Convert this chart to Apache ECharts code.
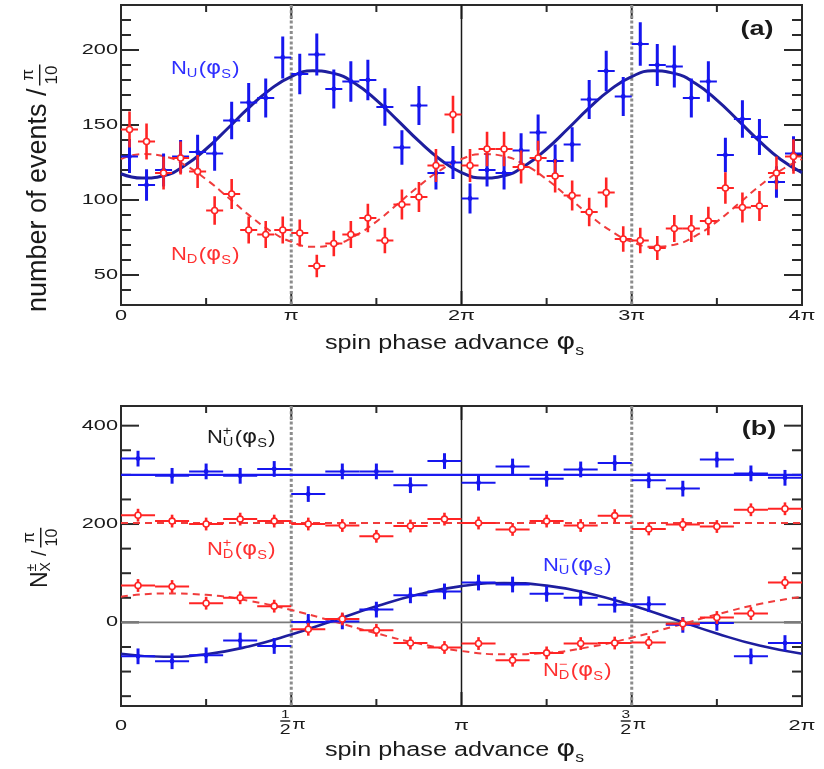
<!DOCTYPE html>
<html>
<head>
<meta charset="utf-8">
<script src="https://cdn.jsdelivr.net/npm/echarts@6/dist/echarts.min.js"></script>
<style>
html,body{margin:0;padding:0;background:#ffffff;}
#chart{width:824px;height:769px;}
</style>
</head>
<body>
<div id="chart"></div>
<script>
// ================= DATA (x in units of pi) =================
// Panel (a): 40 bins of pi/10 over 0..4pi
const binCentersA = [0.05,0.15,0.25,0.35,0.45,0.55,0.65,0.75,0.85,0.95,1.05,1.15,1.25,1.35,1.45,1.55,1.65,1.75,1.85,1.95,2.05,2.15,2.25,2.35,2.45,2.55,2.65,2.75,2.85,2.95,3.05,3.15,3.25,3.35,3.45,3.55,3.65,3.75,3.85,3.95];
const binHalfA = 0.05;
const nU_A = [129,110,120,129,132,131,153,165,168,195,184,197,174,179,180,162,135,163,118,125,101,120,118,133,145,126,137,167,186,169,204,190,189,168,179,130,154,142,112,131];
const nU_A_err = [11,10.5,11,11,11.5,11.5,12.5,13,13,14,13.5,14,13,13.5,13.5,12.5,11.5,13,11,11,10,11,11,11.5,12,11,11.5,13,13.5,13,14.5,14,14,13,13.5,11.5,12.5,12,10.5,11.5];
const nD_A = [147,139,118,128,119,93,104,80,77,80,78,56,71,77,88,73,97,102,123,157,123,134,134,122,128,116,103,92,105,74,73,68,81,81,86,108,95,96,118,129];
const nD_A_err = [12,12,11,11,11,9.5,10,9,9,9,9,7.5,8.5,9,9.5,8.5,10,10,11,12.5,11,11.5,11.5,11,11.5,11,10,9.5,10,8.5,8.5,8,9,9,9.5,10.5,10,10,11,11.5];
// fitted curves (a), sampled every pi/8
const fitX_A = [0,0.125,0.25,0.375,0.5,0.625,0.75,0.875,1,1.125,1.25,1.375,1.5,1.625,1.75,1.875,2,2.125,2.25,2.375,2.5,2.625,2.75,2.875,3,3.125,3.25,3.375,3.5,3.625,3.75,3.875,4];
const fitU_A = [117.5,114.6,116.2,123.0,134.0,147.5,161.4,173.6,182.3,186.1,184.4,177.6,166.6,153.1,139.2,127.0,118.3,114.6,116.2,123.0,134.0,147.5,161.4,173.6,182.3,186.1,184.4,177.6,166.6,153.1,139.2,127.0,118.3];
const fitD_A = [127.3,130.6,129.2,123.3,113.8,102.1,90.1,79.6,72.1,68.8,70.2,76.1,85.6,97.3,109.3,119.8,127.3,130.6,129.2,123.3,113.8,102.1,90.1,79.6,72.1,68.8,70.2,76.1,85.6,97.3,109.3,119.8,127.3];

// Panel (b): 20 bins of pi/10 over 0..2pi
const binCentersB = [0.05,0.15,0.25,0.35,0.45,0.55,0.65,0.75,0.85,0.95,1.05,1.15,1.25,1.35,1.45,1.55,1.65,1.75,1.85,1.95];
const binHalfB = 0.05;
const nUp_B = [333,298,307,298,312,261,307,307,279,328,284,317,292,311,324,289,272,331,303,294];
const nDp_B = [218,206,200,210,206,200,197,175,196,210,202,189,206,197,217,190,199,195,229,231];
const nUm_B = [-69,-79,-67,-37,-48,1,2,26,55,63,81,77,58,50,36,37,-5,-1,-69,-42];
const nDm_B = [75,73,39,50,33,-14,7,-16,-42,-51,-43,-77,-62,-43,-42,-41,-3,10,18,81];
const errU_B = 16;
const errD_B = 13;
const fitFlatX_B = [0,2];
const fitUp_B = [300,300];
const fitDp_B = [202,202];
const fitX_B = [0,0.125,0.25,0.375,0.5,0.625,0.75,0.875,1,1.125,1.25,1.375,1.5,1.625,1.75,1.875,2];
const fitUm_B = [-63.8,-70.0,-64.7,-48.9,-24.8,3.8,32.6,57.2,73.8,80.0,74.7,58.9,34.8,6.2,-22.6,-47.2,-63.8];
const fitDm_B = [52.2,58.8,56.0,44.1,25.1,1.9,-22.2,-43.2,-58.2,-64.8,-62.0,-50.1,-31.1,-7.9,16.2,37.2,52.2];

// Tick labels
const yTickValsA = [50,100,150,200];
const yTickLabelsA = ['50','100','150','200'];
const xTickValsA = [0,1,2,3,4];
const xTickLabelsA = ['0','π','2π','3π','4π'];
const yTickValsB = [0,200,400];
const yTickLabelsB = ['0','200','400'];
const xTickValsB = [0,0.5,1,1.5,2];
const xTickLabelsB = ['0','1/2π','π','3/2π','2π'];
// reference lines
const dottedA = [1,3], solidA = [2];
const dottedB = [0.5,1.5], solidB = [1], hlineB = [0];

// ================= STYLE =================
const FONT = '"Liberation Sans", Arial, sans-serif';
const C = {blue:'#1616ee', blueFit:'#1e1e9e', blueLine:'#1a1af0', red:'#ff2424', redFit:'#f03c3c',
  ink:'#1a1a1a', frame:'#2a2a2a', dots:'#8c8c8c', zero:'#7a7a7a', blueTxt:'#2f2fff', redTxt:'#ff3030'};

const chart = echarts.init(document.getElementById('chart'), null, {renderer:'canvas'});

function axis(gi, min, max) {
  return {type:'value', gridIndex:gi, min:min, max:max,
    axisLine:{show:false}, axisTick:{show:false}, axisLabel:{show:false}, splitLine:{show:false}};
}

function decoSeries(gi, items, xRef, yRef) {
  return {type:'custom', xAxisIndex:gi, yAxisIndex:gi, z:2, clip:false, silent:true,
    data: items,
    renderItem: function (params, api) {
      const cs = params.coordSys;
      const L = cs.x, R = cs.x + cs.width, T = cs.y, B = cs.y + cs.height;
      const v = api.value(0), k = api.value(1);
      const ln = (x1,y1,x2,y2,st) => ({type:'line', shape:{x1,y1,x2,y2}, style:st});
      const tk = {stroke:C.frame, lineWidth:2};
      if (k === 0 || k === 1) {
        const y = api.coord([xRef, v])[1]; const len = k === 0 ? 18 : 10;
        return {type:'group', children:[ln(L,y,L+len,y,tk), ln(R-len,y,R,y,tk)]};
      }
      if (k === 2 || k === 3) {
        const x = api.coord([v, yRef])[0]; const len = k === 2 ? 14 : 7;
        return {type:'group', children:[ln(x,B,x,B-len,tk), ln(x,T,x,T+len,tk)]};
      }
      if (k === 4) {
        const x = api.coord([v, yRef])[0];
        return ln(x,T,x,B,{stroke:C.dots, lineWidth:3, lineDash:[3,2.2]});
      }
      if (k === 5) {
        const x = api.coord([v, yRef])[0];
        return ln(x,T,x,B,{stroke:C.ink, lineWidth:1.5});
      }
      const y = api.coord([xRef, v])[1];
      return ln(L,y,R,y,{stroke:C.zero, lineWidth:1.6});
    }
  };
}

function errorBars(gi, xs, ys, errs, halfW, color, open, vw) {
  return {type:'custom', xAxisIndex:gi, yAxisIndex:gi, z:5, clip:false, silent:true,
    data: xs.map((x,i) => [x, ys[i], Array.isArray(errs) ? errs[i] : errs]),
    renderItem: function (params, api) {
      const x = api.value(0), y = api.value(1), e = api.value(2);
      const c = api.coord([x,y]), t = api.coord([x,y+e]), b = api.coord([x,y-e]);
      const l = api.coord([x-halfW,y]), r = api.coord([x+halfW,y]);
      const ch = [
        {type:'line', shape:{x1:c[0],y1:t[1],x2:c[0],y2:b[1]}, style:{stroke:color, lineWidth:vw}},
        {type:'line', shape:{x1:l[0],y1:c[1],x2:r[0],y2:c[1]}, style:{stroke:color, lineWidth:2}},
        open ? {type:'circle', shape:{cx:c[0],cy:c[1],r:3}, style:{fill:'#ffffff', stroke:color, lineWidth:1.6}}
             : {type:'circle', shape:{cx:c[0],cy:c[1],r:2.4}, style:{fill:color}}
      ];
      return {type:'group', children:ch};
    }
  };
}

function fitLine(gi, xs, ys, color, width, dashed, z) {
  return {type:'line', xAxisIndex:gi, yAxisIndex:gi, data: xs.map((x,i) => [x, ys[i]]),
    smooth: xs.length > 2, showSymbol:false, symbol:'none', silent:true, z: z || 3,
    lineStyle:{color:color, width:width, type: dashed ? [7,5] : 'solid'}};
}

// decoration items (ticks & reference lines)
function decoItems(yMaj, yMin, xMaj, xMin, dots, solids, hl) {
  const it = [];
  yMaj.forEach(v => it.push([v,0])); yMin.forEach(v => it.push([v,1]));
  xMaj.forEach(v => it.push([v,2])); xMin.forEach(v => it.push([v,3]));
  dots.forEach(v => it.push([v,4])); solids.forEach(v => it.push([v,5])); hl.forEach(v => it.push([v,6]));
  return it;
}
const yMinorA = []; for (let v = 40; v <= 220; v += 10) if (v % 50 !== 0) yMinorA.push(v);
const yMinorB = []; for (let v = -150; v <= 400; v += 50) if (v % 200 !== 0) yMinorB.push(v);
const xMinorA = [0.5,1.5,2.5,3.5];
const xMinorB = [0.25,0.75,1.25,1.75];

const option = {
  animation:false,
  backgroundColor:'#ffffff',
  grid:[
    {left:121, top:5, width:681, height:300, show:true, borderColor:C.frame, borderWidth:2, backgroundColor:'transparent'},
    {left:121, top:406, width:681, height:300, show:true, borderColor:C.frame, borderWidth:2, backgroundColor:'transparent'}
  ],
  xAxis:[axis(0,0,4), axis(1,0,2)],
  yAxis:[axis(0,30,230), axis(1,-170,440)],
  series:[
    decoSeries(0, decoItems(yTickValsA, yMinorA, xTickValsA, xMinorA, dottedA, solidA, []), 2, 130),
    decoSeries(1, decoItems(yTickValsB, yMinorB, xTickValsB, xMinorB, dottedB, solidB, hlineB), 1, 100),
    fitLine(0, fitX_A, fitU_A, C.blueFit, 3, false),
    fitLine(0, fitX_A, fitD_A, C.redFit, 2, true),
    errorBars(0, binCentersA, nU_A, nU_A_err, binHalfA, C.blue, false, 3),
    errorBars(0, binCentersA, nD_A, nD_A_err, binHalfA, C.red, true, 2.6),
    fitLine(1, fitFlatX_B, fitUp_B, C.blueLine, 2.2, false),
    fitLine(1, fitFlatX_B, fitDp_B, C.redFit, 2, true),
    fitLine(1, fitX_B, fitUm_B, C.blueFit, 2.6, false),
    fitLine(1, fitX_B, fitDm_B, C.redFit, 2, true),
    errorBars(1, binCentersB, nUp_B, errU_B, binHalfB, C.blue, false, 3),
    errorBars(1, binCentersB, nDp_B, errD_B, binHalfB, C.red, true, 2.6),
    errorBars(1, binCentersB, nUm_B, errU_B, binHalfB, C.blue, false, 3),
    errorBars(1, binCentersB, nDm_B, errD_B, binHalfB, C.red, true, 2.6)
  ]
};
chart.setOption(option);

// ================= TEXT =================
const mc = document.createElement('canvas').getContext('2d');
function tw(t, size, w, f) { mc.font = (w || 'normal') + ' ' + size + 'px ' + (f || FONT); return mc.measureText(t).width; }
function T(text, x, y, size, o) {
  o = o || {};
  return {type:'text', x:x, y:y, scaleX:o.sx || 1, scaleY:o.sy || 1, silent:true,
    style:{text:text, font:(o.w || 'normal') + ' ' + size + 'px ' + (o.f || FONT), fill:o.c || C.ink,
      align:o.a || 'left', verticalAlign:o.v || 'middle'}};
}
function mathRow(pieces, color) {
  let x = 0, px = 0; const ch = [];
  pieces.forEach(p => {
    const w = tw(p.t, p.s, p.w, p.f);
    let x0;
    if (p.stack) { x0 = px; x = Math.max(x, px + w); }
    else { x0 = x + (p.gap || 0); x = x0 + w; }
    ch.push(T(p.t, x0, p.dy || 0, p.s, {c:color, f:p.f, w:p.w}));
    px = x0;
  });
  return {children:ch, width:x};
}
function group(x, y, children, o) {
  o = o || {};
  return {type:'group', x:x, y:y, scaleX:o.sx || 1, scaleY:o.sy || 1, rotation:o.r || 0, silent:true, children:children};
}
const PHI = '"DejaVu Sans", sans-serif';
function nLabel(sub, sup, color) {
  const p = [{t:'N', s:18}];
  if (sup) { p.push({t:sup, s:12, dy:-6}); p.push({t:sub, s:12, dy:5, stack:true}); }
  else p.push({t:sub, s:12, dy:5});
  p.push({t:'(', s:18, gap:1}, {t:'φ', s:19, f:PHI}, {t:'S', s:12, dy:6}, {t:')', s:18, gap:1});
  return mathRow(p, color).children;
}

const G = [];
const TSX = 1.55;
function pxA(x, y) { return chart.convertToPixel({xAxisIndex:0, yAxisIndex:0}, [x, y]); }
function pxB(x, y) { return chart.convertToPixel({xAxisIndex:1, yAxisIndex:1}, [x, y]); }

yTickValsA.forEach((v, i) => { const p = pxA(0, v); G.push(T(yTickLabelsA[i], p[0] - 3, p[1], 14, {a:'right', sx:TSX})); });
xTickValsA.forEach((v, i) => { const p = pxA(v, 30); G.push(T(xTickLabelsA[i], p[0], p[1] + 11, 14, {a:'center', sx:TSX})); });
yTickValsB.forEach((v, i) => { const p = pxB(0, v); G.push(T(yTickLabelsB[i], p[0] - 3, p[1], 14, {a:'right', sx:TSX})); });
xTickValsB.forEach((v, i) => {
  const p = pxB(v, -170); const lab = xTickLabelsB[i];
  const m = lab.match(/^(\d)\/(\d)(.*)$/);
  if (m) {
    G.push(group(p[0], p[1] + 15, [
      T(m[1], -6, -6, 11, {a:'center', sx:1.4}),
      {type:'rect', shape:{x:-11, y:-0.7, width:10, height:1.4}, style:{fill:C.ink}},
      T(m[2], -6, 9, 14, {a:'center', sx:1.4}),
      T(m[3], 1, 4, 14, {a:'left', sx:1.4})
    ]));
  } else {
    G.push(T(lab, p[0], p[1] + 20, 14, {a:'center', sx:TSX}));
  }
});

// axis titles
function xTitle() { return mathRow([{t:'spin phase advance ', s:20}, {t:'φ', s:23, f:PHI}, {t:'s', s:14, dy:8}], C.ink).children; }
G.push(group(325, 343, xTitle(), {sx:1.26}));
G.push(group(325, 750, xTitle(), {sx:1.26}));

// y title (a)
(function () {
  const main = 'number of events /';
  const W = tw(main, 27);
  const fw = tw('10', 17) + 2, fx = W + 3;
  G.push(group(39, 312, [
    T(main, 0, 0, 27),
    T('π', fx + fw / 2, -11, 17, {a:'center'}),
    {type:'rect', shape:{x:fx, y:0, width:fw, height:1.4}, style:{fill:C.ink}},
    T('10', fx + fw / 2, 13, 17, {a:'center'})
  ], {r:Math.PI / 2, sy:1.0}));
})();
// y title (b)
(function () {
  const row = mathRow([{t:'N', s:23}, {t:'±', s:14, dy:-8}, {t:'X', s:14, dy:6, stack:true}, {t:'/', s:20, gap:6}], C.ink);
  const fw = tw('10', 16) + 2, fx = row.width + 3;
  G.push(group(40, 588, row.children.concat([
    T('π', fx + fw / 2, -10, 16, {a:'center'}),
    {type:'rect', shape:{x:fx, y:0, width:fw, height:1.4}, style:{fill:C.ink}},
    T('10', fx + fw / 2, 12, 16, {a:'center'})
  ]), {r:Math.PI / 2, sy:1.05}));
})();

// in-plot labels
const LSX = 1.22;
G.push(group(171, 69, nLabel('U', null, C.blueTxt), {sx:LSX}));
G.push(group(171, 255, nLabel('D', null, C.redTxt), {sx:LSX}));
G.push(group(207, 438, nLabel('U', '+', C.ink), {sx:LSX}));
G.push(group(207, 550, nLabel('D', '+', C.redTxt), {sx:LSX}));
G.push(group(543, 566, nLabel('U', '−', C.blueTxt), {sx:LSX}));
G.push(group(543, 671, nLabel('D', '−', C.redTxt), {sx:LSX}));
G.push(T('(a)', 757, 29, 20, {w:'bold', a:'center', sx:1.35}));
G.push(T('(b)', 759, 429, 20, {w:'bold', a:'center', sx:1.35}));

chart.setOption({graphic:{elements:G}});
</script>
</body>
</html>
